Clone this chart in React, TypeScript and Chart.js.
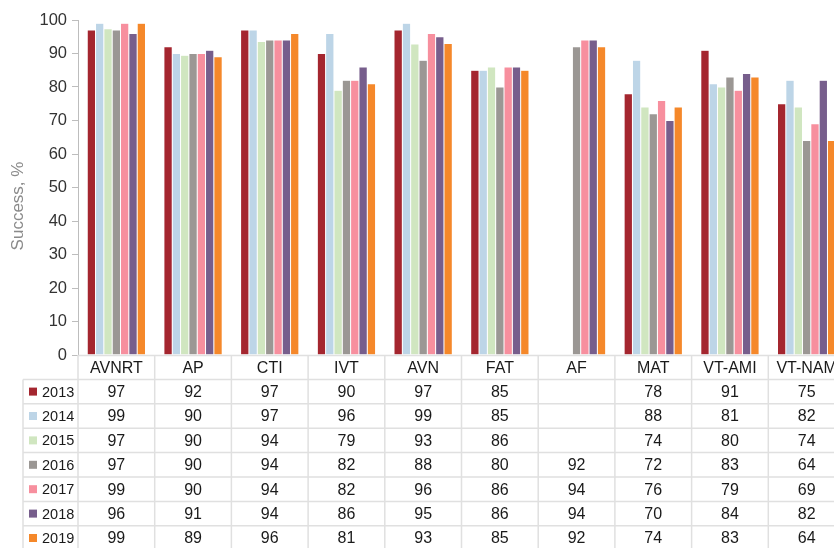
import React, { useEffect, useRef } from "react";
import { Chart, registerables } from "chart.js";

Chart.register(...registerables);

const categories = ["AVNRT", "AP", "CTI", "IVT", "AVN", "FAT", "AF", "MAT", "VT-AMI", "VT-NAM"];
const years = ["2013", "2014", "2015", "2016", "2017", "2018", "2019"];
const colors = ["#A4262F", "#BDD5E7", "#D0E6C0", "#9B9794", "#F78F9E", "#775E8C", "#F5882A"];

const v2013 = [97, 92, 97, 90, 97, 85, null, 78, 91, 75];
const v2014 = [99, 90, 97, 96, 99, 85, null, 88, 81, 82];
const v2015 = [97.4, 89.5, 93.6, 79, 92.8, 86, null, 74, 80, 74];
const v2016 = [97, 90, 94, 82, 88, 80, 92, 72, 83, 64];
const v2017 = [99, 90, 94, 82, 96, 86, 94, 76, 79, 69];
const v2018 = [96, 91, 94, 86, 95, 86, 94, 70, 84, 82];
const v2019 = [99, 89, 96, 81, 93, 85, 92, 74, 83, 64];

const series = [v2013, v2014, v2015, v2016, v2017, v2018, v2019];
const yTicks = [0, 10, 20, 30, 40, 50, 60, 70, 80, 90, 100];
const yTitle = "Success, %";

const FONT = "'Liberation Sans', Arial, Helvetica, sans-serif";

const tablePlugin = {
  id: "dataTable",
  afterDraw(chart: any) {
    const ctx = chart.ctx;
    const xs = chart.scales.x;
    const area = chart.chartArea;
    const n = categories.length;
    const colW = (area.right - area.left) / n;
    const top = area.bottom;
    const rowH = 24.4;
    const tableLeft = 23;
    const rows = years.length;
    ctx.save();
    ctx.strokeStyle = "#e0e0e0";
    ctx.lineWidth = 1.5;
    ctx.beginPath();
    ctx.moveTo(area.left, top + 0.5);
    ctx.lineTo(area.right + 10, top + 0.5);
    for (let r = 0; r <= rows; r++) {
      const y = top + (r + 1) * rowH;
      ctx.moveTo(tableLeft, y);
      ctx.lineTo(area.right + 10, y);
    }
    for (let i = 0; i <= n; i++) {
      const x = area.left + i * colW;
      ctx.moveTo(x, top);
      ctx.lineTo(x, top + (rows + 2) * rowH);
    }
    ctx.moveTo(tableLeft, top + rowH);
    ctx.lineTo(tableLeft, top + (rows + 2) * rowH);
    ctx.stroke();

    ctx.fillStyle = "#1a1a1a";
    ctx.textAlign = "center";
    ctx.textBaseline = "middle";
    ctx.font = `16px ${FONT}`;
    categories.forEach((c, i) => {
      const cx = xs.getPixelForValue(i);
      ctx.fillText(c, cx, top + rowH / 2 + 1);
    });

    for (let r = 0; r < rows; r++) {
      const cy = top + (r + 1) * rowH + rowH / 2 + 1;
      ctx.fillStyle = colors[r];
      ctx.fillRect(29, cy - 5, 8, 8);
      ctx.fillStyle = "#1a1a1a";
      ctx.textAlign = "left";
      ctx.font = `14.5px ${FONT}`;
      ctx.fillText(years[r], 42, cy);
      ctx.textAlign = "center";
      ctx.font = `16px ${FONT}`;
      series[r].forEach((v, i) => {
        if (v === null || v === undefined) return;
        ctx.fillText(String(Math.round(v as number)), xs.getPixelForValue(i), cy);
      });
    }

    ctx.save();
    ctx.translate(18, 206);
    ctx.rotate(-Math.PI / 2);
    ctx.fillStyle = "#8a8a8a";
    ctx.font = `17px ${FONT}`;
    ctx.textAlign = "center";
    ctx.textBaseline = "middle";
    ctx.fillText(yTitle, 0, 0);
    ctx.restore();
    ctx.restore();
  },
};

export default function App() {
  const ref = useRef<HTMLCanvasElement | null>(null);
  useEffect(() => {
    if (!ref.current) return;
    const chart = new Chart(ref.current, {
      type: "bar",
      data: {
        labels: categories,
        datasets: years.map((y, i) => ({
          label: y,
          data: series[i] as any,
          backgroundColor: colors[i],
          borderColor: "rgba(255,255,255,0.45)",
          borderWidth: { left: 0.5, right: 0.5, top: 0.5, bottom: 0 },
          borderSkipped: "bottom",
          categoryPercentage: 0.76,
          barPercentage: 1.0,
        })),
      },
      options: {
        responsive: false,
        animation: false,
        devicePixelRatio: 1,
        layout: { padding: { left: 0, right: 5, top: 20, bottom: 193 } },
        plugins: { legend: { display: false }, tooltip: { enabled: false } },
        scales: {
          x: { display: false },
          y: {
            min: 0,
            max: 100,
            afterFit: (s: any) => {
              s.width = 78;
            },
            afterBuildTicks: (s: any) => {
              s.ticks = yTicks.map((v) => ({ value: v }));
            },
            ticks: {
              stepSize: 10,
              padding: 5,
              color: "#333",
              font: { family: FONT, size: 16.5 },
            },
            grid: { drawOnChartArea: false, drawTicks: true, tickLength: 6, color: "#bdbdbd" },
            border: { display: true, color: "#bdbdbd", width: 1 },
          },
        },
      },
      plugins: [tablePlugin],
    });
    return () => chart.destroy();
  }, []);
  return (
    <div style={{ position: "absolute", left: 0, top: 0, width: 834, height: 548, overflow: "hidden", background: "#fff" }}>
      <canvas ref={ref} width={850} height={548} style={{ width: 850, height: 548, display: "block" }} />
    </div>
  );
}
